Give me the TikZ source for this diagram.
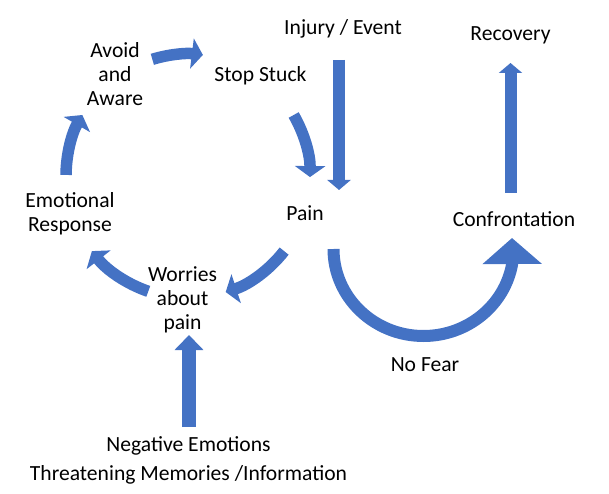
\documentclass[tikz,border=0pt]{standalone}
\usepackage{fontspec}
\setmainfont{Carlito}
\usepackage{tikz}
\usetikzlibrary{arrows.meta}
\usetikzlibrary{positioning}
\usetikzlibrary{calc}
\definecolor{arrowblue}{HTML}{4472C4}
\tikzset{line/.style={draw=arrowblue, line width=12pt, -{Triangle[length=10pt, width=23pt]}}}

\begin{document}
\begin{tikzpicture}[x=1pt, y=-1pt]
\tikzstyle{word} = [font=\fontsize{21.6}{24}\selectfont, align=center, inner sep=0pt, anchor=base]
\tikzstyle{loop line} = [draw=arrowblue, line width=11.5pt, -{Triangle[length=11pt, width=30pt]}]
\useasboundingbox (0,0) rectangle (609,494);

% texts
    % cycle
    \node [word] (avoid) at (115,105.5) {Avoid\\and\\Aware};
    \node [word] (stop) at (260.5,81.7) {Stop Stuck};
    \node [word] (pain) at (305,220.7) {Pain};
    \node [word] (worries) at (182.5,329.5) {Worries\\about\\pain};
    \node [word] (emotional) at (70,231.7) {Emotional\\Response};
    % way out
    \node [word] (injury) at (343,34.3) {Injury / Event};
    \node [word] (recovery) at (510.5,41) {Recovery};
    \node [word] (confront) at (514,226) {Confrontation};
    \node [word] (no fear) at (425,371.7) {No Fear};
    % input
    \node [word] (negative) at (188.5,451.7) {Negative Emotions};
    \node [word, below=28.3pt of negative.base, anchor=base] (threat) {Threatening Memories /Information};

% arrow ends
    \coordinate (cycle centre) at (188,176);
    \coordinate (injury foot) at (339,60);
    \coordinate (pain top) at (339,190);
    \coordinate (confront top) at (510.5,193);
    \coordinate (recovery foot) at (510.5,63);
    \coordinate (threat top) at (189,427);
    \coordinate (worries foot) at (189,335);
    \coordinate (pain foot) at (333.5,249);
    \coordinate (confront foot) at (512,238);

% arrows
    % cycle
    \path [loop line] ($(cycle centre)+(253:122)$) arc [start angle=253, end angle=277, radius=122];
    \path [loop line] ($(cycle centre)+(-30:122)$) arc [start angle=-30, end angle=0.5, radius=122];
    \path [loop line] ($(cycle centre)+(38:122)$) arc [start angle=38, end angle=72, radius=122];
    \path [loop line] ($(cycle centre)+(109:122)$) arc [start angle=109, end angle=142, radius=122];
    \path [loop line] ($(cycle centre)+(180.5:122)$) arc [start angle=180.5, end angle=210, radius=122];
    % way out
    \path [line] (injury foot) -- (pain top);
    \path [line, -{Triangle[length=26pt, width=58pt]}] (pain foot) arc [start angle=180, end angle=10, x radius=90, y radius=87] -- (confront foot);
    \path [line] (confront top) -- (recovery foot);
    % input
    \path [line, line width=14pt, -{Triangle[length=15pt, width=28pt]}] (threat top) -- (worries foot);
\end{tikzpicture}
\end{document}
